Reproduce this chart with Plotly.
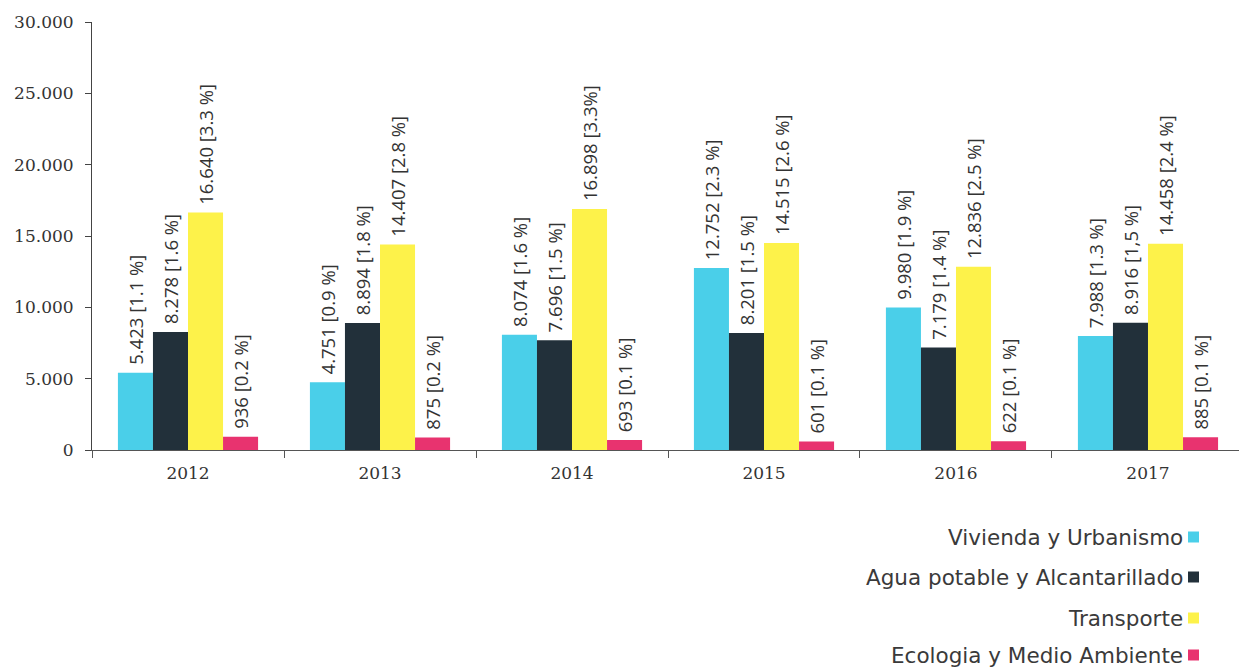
import plotly.graph_objects as go

years = ["2012", "2013", "2014", "2015", "2016", "2017"]
series_names = ["Vivienda y Urbanismo", "Agua potable y Alcantarillado", "Transporte", "Ecologia y Medio Ambiente"]
vivienda = [5423, 4751, 8074, 12752, 9980, 7988]
agua = [8278, 8894, 7696, 8201, 7179, 8916]
transporte = [16640, 14407, 16898, 14515, 12836, 14458]
ecologia = [936, 875, 693, 601, 622, 885]
vivienda_pct = ["1.1 %", "0.9 %", "1.6 %", "2.3 %", "1.9 %", "1.3 %"]
agua_pct = ["1.6 %", "1.8 %", "1.5 %", "1.5 %", "1.4 %", "1,5 %"]
transporte_pct = ["3.3 %", "2.8 %", "3.3%", "2.6 %", "2.5 %", "2.4 %"]
ecologia_pct = ["0.2 %", "0.2 %", "0.1 %", "0.1 %", "0.1 %", "0.1 %"]
colors = ["#4ACFE9", "#22303A", "#FDF24A", "#E8336F"]
y_ticks = [0, 5000, 10000, 15000, 20000, 25000, 30000]

values = [vivienda, agua, transporte, ecologia]
pcts = [vivienda_pct, agua_pct, transporte_pct, ecologia_pct]

W, H = 1239, 671
ML, MR, MT, MB = 92, 0, 22, 221
pw = W - ML - MR
ph = H - MT - MB

def fmt(v):
    return f"{v:,}".replace(",", ".")

fig = go.Figure()
for name, vals, pc, col in zip(series_names, values, pcts, colors):
    fig.add_trace(go.Bar(
        x=years, y=vals, name=name, marker=dict(color=col, line=dict(width=0)),
        text=[f"\u00a0{fmt(v)} [{p}]" for v, p in zip(vals, pc)],
        textposition="outside", textangle=-90, cliponaxis=False,
        constraintext="none",
        textfont=dict(family="Open Sans", size=18.5, color="#333333"),
        showlegend=False,
    ))

# legend (text on the left, square on the right)
legend_rows_px = [537, 577, 618, 655]
for name, col, py in zip(series_names, colors, legend_rows_px):
    yp = (MT + ph - py) / ph
    fig.add_annotation(
        xref="paper", yref="paper", x=(1184 - ML) / pw, y=yp,
        xanchor="right", yanchor="middle", showarrow=False, text=name,
        font=dict(family="DejaVu Sans", size=21.5, color="#3a3a3a"),
        borderpad=0,
    )
    fig.add_shape(
        type="rect", xref="paper", yref="paper",
        x0=(1188 - ML) / pw, x1=(1199 - ML) / pw,
        y0=yp - 5.5 / ph, y1=yp + 5.5 / ph,
        fillcolor=col, line=dict(width=0),
    )

fig.update_layout(
    width=W, height=H,
    margin=dict(l=ML, r=MR, t=MT, b=MB, autoexpand=False),
    barmode="group", bargap=0.27, bargroupgap=0,
    plot_bgcolor="white", paper_bgcolor="white",
    separators=",.",
    xaxis=dict(
        range=[-0.5, 5.474],
        showline=True, linecolor="#555555", linewidth=1,
        ticks="outside", tickson="boundaries", ticklen=7, tickcolor="#555555",
        tickfont=dict(family="DejaVu Serif", size=17, color="#333333"),
        showgrid=False, ticklabelstandoff=8,
    ),
    yaxis=dict(
        range=[0, 30000], tickvals=y_ticks, tickformat=",d",
        showline=True, linecolor="#444444", linewidth=1,
        ticks="outside", ticklen=6, tickcolor="#444444",
        tickfont=dict(family="DejaVu Serif", size=17, color="#333333"),
        showgrid=False, zeroline=False, ticklabelstandoff=8,
    ),
)

fig.write_html("out.html", config={"displayModeBar": False},
               post_script="document.body.style.margin='0';document.body.style.overflow='hidden';")
